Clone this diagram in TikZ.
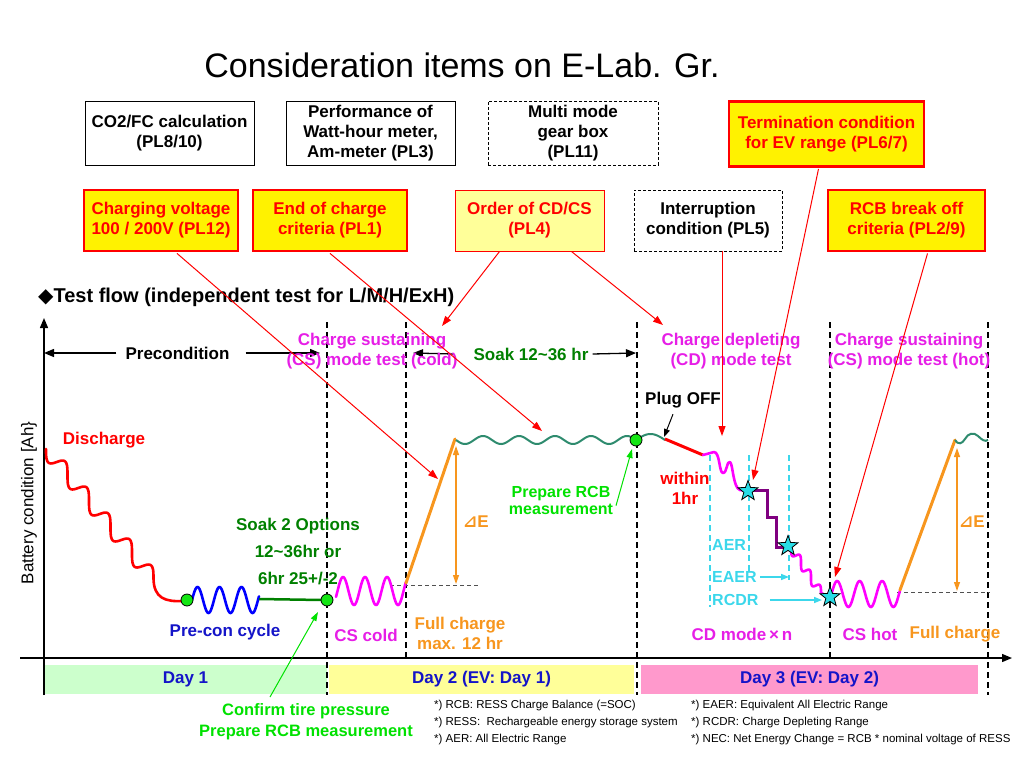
\documentclass[tikz,border=0pt]{standalone}
\usepackage{fontspec}
\setmainfont{Liberation Sans}
\newfontfamily\djv{DejaVu Sans}
\usetikzlibrary{arrows.meta,shapes.geometric}
\newcommand{\myfs}[2]{\fontsize{#1}{#2}\selectfont}
\definecolor{lyel}{RGB}{255,255,153}
\definecolor{dgreen}{RGB}{0,128,0}
\definecolor{bgreen}{RGB}{0,225,0}
\definecolor{dotgreen}{RGB}{20,230,20}
\definecolor{soakw}{RGB}{46,139,110}
\definecolor{orng}{RGB}{247,150,30}
\definecolor{mag}{RGB}{255,0,255}
\definecolor{magt}{RGB}{230,30,230}
\definecolor{navyb}{RGB}{20,20,200}
\definecolor{purp}{RGB}{128,0,128}
\definecolor{cyanl}{RGB}{60,215,235}
\definecolor{starc}{RGB}{40,220,230}
\definecolor{dayone}{RGB}{204,255,204}
\definecolor{daythree}{RGB}{255,153,204}
\definecolor{dgray}{RGB}{80,80,80}
\tikzset{
 lab/.style={inner sep=0pt, align=center, font=\myfs{17}{20}\bfseries},
 bx/.style={draw=black, line width=0.9pt, align=center, inner sep=0pt, font=\myfs{17}{20}\bfseries},
 bxd/.style={bx, dash pattern=on 3pt off 2pt},
 bxy/.style={bx, draw=red, line width=2.8pt, fill=yellow, text=red},
 bxo/.style={bx, draw=red, line width=1pt, fill=lyel, text=red},
 redarr/.style={draw=red, line width=1pt, -{Triangle[length=10pt,width=7pt]}},
 blkarr/.style={draw=black, line width=1.3pt, -{Triangle[length=10pt,width=8pt]}},
 grnarr/.style={draw=bgreen, line width=1pt, -{Triangle[length=9pt,width=6pt]}},
 cyarr/.style={draw=cyanl, line width=1.5pt, -{Triangle[length=8pt,width=6pt]}},
 vdash/.style={draw=black, line width=1.3pt, dash pattern=on 6pt off 4pt},
 cdash/.style={draw=cyanl, line width=1.3pt, dash pattern=on 6pt off 4pt},
 hdash/.style={draw=dgray, line width=1pt, dash pattern=on 4pt off 3pt},
 dot/.style={circle, draw=black, line width=0.8pt, fill=dotgreen, minimum size=12pt, inner sep=0pt},
 starn/.style={star, star points=5, star point ratio=2.4, draw=black, line width=0.8pt, fill=starc, minimum size=21pt, inner sep=0pt},
 curve/.style={line width=2.6pt, line cap=round, line join=round},
 foot/.style={anchor=west, inner sep=0pt, font=\myfs{11.5}{14}},
 daybar/.style={inner sep=0pt, minimum height=29pt, text=navyb, font=\myfs{17}{20}\bfseries},
}
\begin{document}
\begin{tikzpicture}[x=1pt,y=-1pt]
\useasboundingbox (0,0) rectangle (1024,768);

% title
\node[inner sep=0pt, font=\myfs{34}{40}] (title) at (462,65) {Consideration items on E-Lab. Gr.};

% top boxes
\node[bx, minimum width=169pt, minimum height=64pt] (co2) at (169.5,133) {CO2/FC calculation\\(PL8/10)};
\node[bx, minimum width=169pt, minimum height=64pt] (perf) at (370.5,133) {Performance of\\Watt-hour meter,\\Am-meter (PL3)};
\node[bxd, minimum width=170pt, minimum height=64pt] (multi) at (573,133) {Multi mode\\gear box\\(PL11)};
\node[bxy, minimum width=195pt, minimum height=65pt] (term) at (826.5,134) {Termination condition\\for EV range (PL6/7)};

\node[bxy, minimum width=154pt, minimum height=61pt] (chg) at (161,220.5) {Charging voltage\\100 / 200V (PL12)};
\node[bxy, minimum width=154pt, minimum height=61pt] (eoc) at (330,220.5) {End of charge\\criteria (PL1)};
\node[bxo, minimum width=149pt, minimum height=61pt] (order) at (529.5,220.5) {Order of CD/CS\\(PL4)};
\node[bxd, minimum width=148pt, minimum height=61pt] (intr) at (708,220.5) {Interruption\\condition (PL5)};
\node[bxy, minimum width=157pt, minimum height=61pt] (rcb) at (906.5,220.5) {RCB break off\\criteria (PL2/9)};

% heading
\node[anchor=west, inner sep=0pt, font=\myfs{20}{24}\bfseries] (head) at (38,297) {{\djv ◆}Test flow (independent test for L/M/H/ExH)};

% day bars
\node[daybar, fill=dayone, minimum width=283pt] (d1) at (185.5,679.5) {Day 1};
\node[daybar, fill=lyel, minimum width=305pt] (d2) at (481.5,679.5) {Day 2 (EV: Day 1)};
\node[daybar, fill=daythree, minimum width=337pt] (d3) at (809.5,679.5) {Day 3 (EV: Day 2)};

% axes
\coordinate (yb) at (44,695);
\coordinate (yt) at (44,318);
\coordinate (xl) at (20,658);
\coordinate (xr) at (1012,658);
\draw[blkarr] (yb) -- (yt);
\draw[blkarr] (xl) -- (xr);
\node[rotate=90, inner sep=0pt, font=\myfs{17}{20}] (ylab) at (29,503) {Battery condition [Ah\}};

% vertical dashed lines
\draw[vdash] (327,322) -- (327,695);
\draw[vdash] (406,322) -- (406,658);
\draw[vdash] (637,322) -- (637,695);
\draw[vdash] (830,322) -- (830,658);
\draw[vdash] (988,322) -- (988,695);

% cyan dashed
\draw[cdash] (710,455) -- (710,607);
\draw[cdash] (749,455) -- (749,572);
\draw[cdash] (789,455) -- (789,580);

% gray dashed
\draw[hdash] (390,585) -- (480,585);
\draw[hdash] (897,592) -- (990,592);

% curves
\draw[curve, red] plot[domain=0:5, samples=200, variable=\t] ({46+21.5*(\t-sin(360*\t)/6.283)},{449+26*(\t+1.6*sin(360*\t)/6.283)}) .. controls (154,598) and (165,602) .. (183,601);
\draw[curve, blue] plot[domain=192:259, samples=120, variable=\x] (\x,{600-13*sin((\x-192)/22*360)});
\draw[line width=2.5pt, dgreen] (259,599) -- (322,600);
\draw[curve, mag] plot[domain=336:406, samples=120, variable=\x] (\x,{591-14*sin((\x-333)/22*360-74)});
\draw[line width=3pt, orng, line cap=round] (406,583) -- (455,439);
\draw[line width=2pt, soakw] plot[domain=456:636, samples=160, variable=\x] (\x,{440+4*sin((\x-456)/36*360)});
\draw[line width=2pt, soakw] plot[domain=636:665, samples=40, variable=\x] (\x,{440-6*sin((\x-636)/29*180)});
\draw[line width=3pt, red] (665,439) -- (703,455);
\draw[curve, mag] (703,455) -- (714,452) .. controls (720,452) and (719,473) .. (723,473) .. controls (727,473) and (727,460) .. (730,462) .. controls (733,464) and (733,488) .. (740,490) -- (748,491);
\draw[line width=3pt, purp, line join=miter] (748,490) -- (767,490) -- (767,517) -- (776,517) -- (776,547) -- (788,547);
\draw[curve, mag] plot[domain=0:3, samples=120, variable=\t] ({791+10*(\t-sin(360*\t)/6.283)},{548+15*(\t+1.6*sin(360*\t)/6.283)}) -- (830,597);
\draw[curve, mag] plot[domain=831.5:900, samples=120, variable=\x] (\x,{594-13*sin((\x-831.5)/22.5*360)});
\draw[line width=3pt, orng, line cap=round] (900,590) -- (955,440);
\draw[line width=2pt, soakw] (955,440) .. controls (958,445) and (962,444) .. (965,439) .. controls (968,433) and (974,432) .. (978,436) .. controls (982,440) and (985,442) .. (988,440);

% delta E arrows
\draw[orng, line width=1.2pt, {Triangle[length=9pt,width=6pt]}-{Triangle[length=9pt,width=6pt]}] (456,446) -- (456,584);
\draw[orng, line width=1.2pt, {Triangle[length=9pt,width=6pt]}-{Triangle[length=9pt,width=6pt]}] (957,448) -- (957,591);

% dots and stars
\node[dot] (dot1) at (187,600) {};
\node[dot] (dot2) at (327,600) {};
\node[dot] (dot3) at (636,440) {};
\node[starn] (s1) at (748,491) {};
\node[starn] (s2) at (788,546) {};
\node[starn] (s3) at (830,597) {};

% labels in plot
\node[lab] (pre) at (177.5,353) {Precondition};
\draw[blkarr] ([xshift=-9pt]pre.west) -- (yb |- pre);
\coordinate (preR) at (320,353);
\draw[blkarr] ([xshift=16pt]pre.east) -- (preR);
\node[lab, text=dgreen] (soak) at (531,354) {Soak 12\textasciitilde36 hr};
\coordinate (soakL) at (413,353);
\coordinate (soakR) at (636,353);
\draw[blkarr] ([xshift=-20pt]soak.west) -- (soakL);
\draw[blkarr] ([xshift=4pt]soak.east) -- (soakR);

\node[lab, text=magt] (cscold) at (372,351) {Charge sustaining\\(CS) mode test (cold)};
\node[lab, text=magt] (cdt) at (731,351) {Charge depleting\\(CD) mode test};
\node[lab, text=magt] (cshot) at (909,351) {Charge sustaining\\(CS) mode test (hot)};

\node[lab] (plug) at (683,400) {Plug OFF};
\coordinate (plugT) at (664,437);
\draw[black, line width=1pt, -{Triangle[length=8pt,width=6pt]}] ([xshift=-10pt,yshift=-6pt]plug.south) -- (plugT);

\node[lab, text=red] (dis) at (104,440) {Discharge};
\node[lab, text=dgreen, font=\myfs{17}{27}\bfseries] (soak2) at (298,552) {Soak 2 Options\\12\textasciitilde36hr or\\6hr 25+/-2};
\node[lab, text=navyb] (precon) at (225,632) {Pre-con cycle};
\node[lab, text=magt] (cscoldl) at (366,635) {CS cold};
\node[lab, text=orng] (fc1) at (460,633) {Full charge\\max. 12 hr};
\node[lab, text=orng] (de1) at (476,522) {{\djv ⊿}E};
\node[lab, text=orng] (de2) at (972,522) {{\djv ⊿}E};
\node[lab, text=bgreen, font=\myfs{16}{17}\bfseries] (prep) at (561,500) {Prepare RCB\\measurement};
\coordinate (prepT) at (632,449);
\draw[grnarr] ([xshift=55pt,yshift=-20pt]prep.north) -- (prepT);
\node[lab, text=red] (within) at (685,488) {within\\1hr};
\node[lab, text=cyanl, font=\myfs{16}{20}\bfseries, anchor=west] (aer) at (712,545) {AER};
\node[lab, text=cyanl, font=\myfs{16}{20}\bfseries, anchor=west] (eaer) at (712,577) {EAER};
\node[lab, text=cyanl, font=\myfs{16}{20}\bfseries, anchor=west] (rcdr) at (712,600) {RCDR};
\coordinate (eaerT) at (789,577);
\coordinate (rcdrT) at (822,600);
\draw[cyarr] ([xshift=3pt]eaer.east) -- (eaerT);
\draw[cyarr] ([xshift=11pt]rcdr.east) -- (rcdrT);
\node[lab, text=magt] (cdmode) at (742,634) {CD mode\,×\,n};
\node[lab, text=magt] (cshotl) at (870,634) {CS hot};
\node[lab, text=orng] (fc2) at (955,634) {Full charge};

% confirm tire pressure
\node[lab, text=bgreen, font=\myfs{16.5}{21}\bfseries] (conf) at (306,722) {Confirm tire pressure\\Prepare RCB measurement};
\coordinate (confT) at (318,612);
\coordinate (confS) at (270,697);
\draw[grnarr] (confS) -- (confT);

% footnotes
\node[foot] (f1) at (434,706) {*) RCB: RESS Charge Balance (=SOC)};
\node[foot] (f2) at (434,723) {*) RESS:\ \ Rechargeable energy storage system};
\node[foot] (f3) at (434,740) {*) AER: All Electric Range};
\node[foot] (f4) at (691,706) {*) EAER: Equivalent All Electric Range};
\node[foot] (f5) at (691,723) {*) RCDR: Charge Depleting Range};
\node[foot] (f6) at (691,740) {*) NEC: Net Energy Change = RCB * nominal voltage of RESS};

% red arrows from boxes
\coordinate (r1) at (438,479);
\coordinate (r2) at (542,431);
\coordinate (r3) at (442,326);
\coordinate (r4) at (663,325);
\coordinate (r5) at (722,436);
\coordinate (r6) at (753,480);
\coordinate (r7) at (835,577);
\draw[redarr] ([xshift=16pt,yshift=-1pt]chg.south) -- (r1);
\draw[redarr] ([yshift=-1pt]eoc.south) -- (r2);
\draw[redarr] ([xshift=-30pt]order.south) -- (r3);
\draw[redarr] ([xshift=42pt]order.south) -- (r4);
\draw[redarr] ([xshift=14pt]intr.south) -- (r5);
\draw[redarr] ([xshift=-8pt,yshift=-1pt]term.south) -- (r6);
\draw[redarr] ([xshift=21pt,yshift=-1pt]rcb.south) -- (r7);
\end{tikzpicture}
\end{document}
